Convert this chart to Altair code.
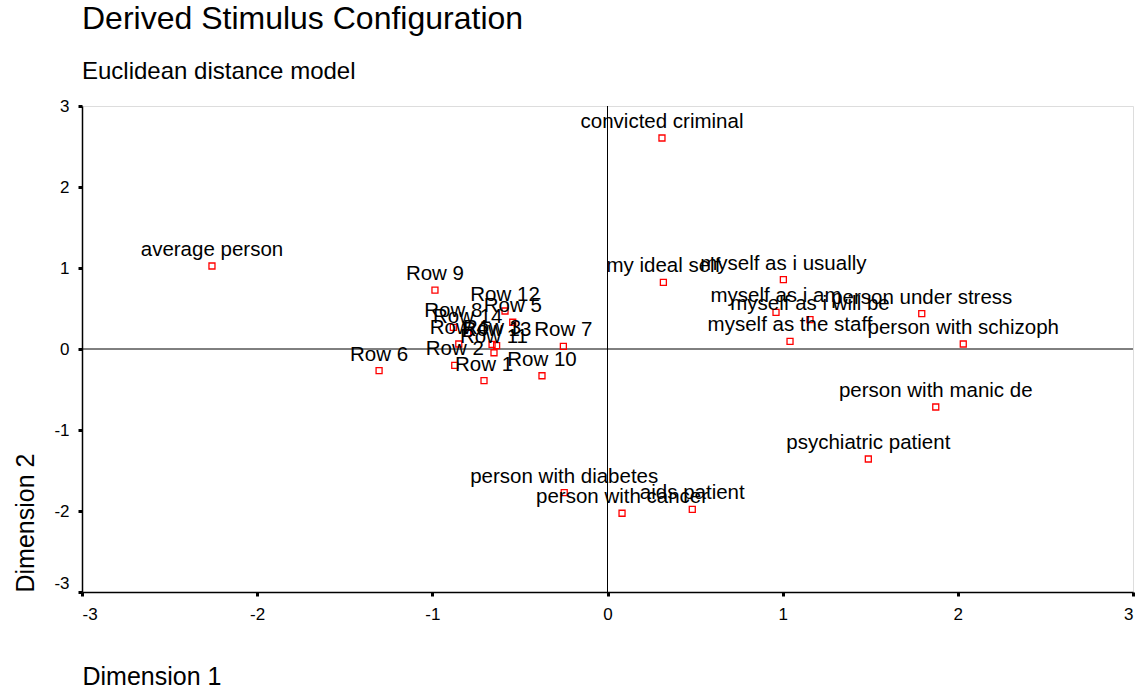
import altair as alt
import pandas as pd

names = [
    "convicted criminal", "average person", "Row 9", "Row 12", "Row 5", "Row 8",
    "Row 14", "Row 4", "Row 3", "Row 13", "Row 11", "Row 2", "Row 1", "Row 6",
    "Row 10", "Row 7", "my ideal self", "myself as i usually", "myself as i am",
    "myself as i will be", "myself as the staff", "person under stress",
    "person with schizoph", "person with manic de", "psychiatric patient",
    "person with diabetes", "person with cancer", "aids patient",
]
dim1 = [0.311, -2.258, -0.985, -0.585, -0.541, -0.880, -0.798, -0.849, -0.659,
        -0.633, -0.648, -0.872, -0.705, -1.304, -0.374, -0.252, 0.319, 1.004,
        0.962, 1.156, 1.042, 1.794, 2.031, 1.874, 1.489, -0.247, 0.083, 0.484]
dim2 = [2.605, 1.025, 0.728, 0.469, 0.330, 0.268, 0.194, 0.062, 0.058, 0.041,
        -0.046, -0.201, -0.391, -0.268, -0.330, 0.033, 0.823, 0.856, 0.453,
        0.362, 0.095, 0.436, 0.062, -0.716, -1.358, -1.774, -2.028, -1.979]
ticks = [-3, -2, -1, 0, 1, 2, 3]

df = pd.DataFrame({"name": names, "d1": dim1, "d2": dim2})
zero = pd.DataFrame({"v": [0]})

FONT = "Liberation Sans"

xscale = alt.Scale(domain=[-3, 3], nice=False, zero=False)
yscale = alt.Scale(domain=[-3, 3], nice=False, zero=False)

xaxis = alt.Axis(
    values=ticks, labelExpr="'' + datum.value", title="Dimension 1",
    titleAnchor="start", titleAlign="left", titlePadding=42,
    titleFontSize=25, titleFontWeight="normal", titleFont=FONT, titleColor="#000",
    labelFontSize=17, labelFont=FONT, labelColor="#000", labelPadding=10,
    tickSize=4, tickWidth=3, tickColor="#000", domainColor="#000", domainWidth=1.5,
    grid=False,
)
yaxis = alt.Axis(
    values=ticks, labelExpr="'' + datum.value", title="Dimension 2",
    titleAnchor="start", titlePadding=15,
    titleFontSize=25, titleFontWeight="normal", titleFont=FONT, titleColor="#000",
    labelFontSize=17, labelFont=FONT, labelColor="#000", labelPadding=9,
    labelBaseline={"condition": {"test": "datum.value == -3", "value": "bottom"}, "value": "middle"},
    tickSize=4, tickWidth=3, tickColor="#000", domainColor="#000", domainWidth=1.5,
    grid=False,
)

base = alt.Chart(df)

points = base.mark_point(shape="square", filled=False, color="#ff0000",
                         strokeWidth=1.3, size=36, opacity=1).encode(
    x=alt.X("d1:Q", scale=xscale, axis=xaxis),
    y=alt.Y("d2:Q", scale=yscale, axis=yaxis),
)

labels = base.mark_text(font=FONT, fontSize=20.5, color="#000", align="center",
                        baseline="alphabetic", dy=-10).encode(
    x=alt.X("d1:Q", scale=xscale),
    y=alt.Y("d2:Q", scale=yscale),
    text="name:N",
)

vrule = alt.Chart(zero).mark_rule(color="#000", strokeWidth=1).encode(
    x=alt.X("v:Q", scale=xscale))
hrule = alt.Chart(zero).mark_rule(color="#000", strokeWidth=1).encode(
    y=alt.Y("v:Q", scale=yscale))

chart = alt.layer(vrule, hrule, points, labels).properties(
    width=1051, height=486,
    title=alt.TitleParams(
        text="Derived Stimulus Configuration",
        subtitle="Euclidean distance model",
        anchor="start", frame="group", offset=12, subtitlePadding=24,
        font=FONT, fontSize=32, fontWeight="normal", color="#000",
        subtitleFont=FONT, subtitleFontSize=24, subtitleColor="#000",
    ),
    autosize=alt.AutoSizeParams(type="none"),
    padding={"left": 82, "top": 106, "right": 11, "bottom": 99},
).configure_view(
    stroke="#000", strokeWidth=1.5,
).configure(background="white")

chart.save("out.html", embed_options={"renderer": "svg", "actions": False})
